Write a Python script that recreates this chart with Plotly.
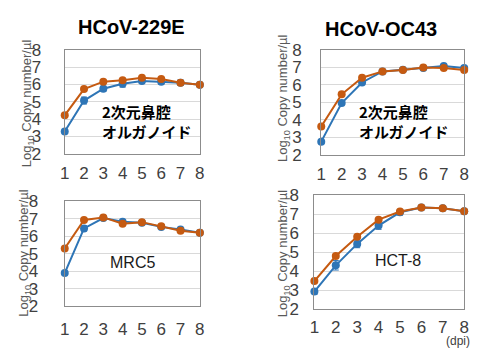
import plotly.graph_objects as go

days = [1, 2, 3, 4, 5, 6, 7, 8]
y_ticks = [2, 3, 4, 5, 6, 7, 8]

# HCoV-229E, 2D nasal organoid
e229_blue = [3.29, 5.07, 5.75, 6.04, 6.20, 6.16, 6.10, 5.98]
e229_blue_err = [0.05, 0.2, 0.15, 0.2, 0.15, 0.15, 0.15, 0.1]
e229_orange = [4.22, 5.73, 6.16, 6.24, 6.38, 6.31, 6.10, 5.98]
e229_orange_err = [0.05, 0.05, 0.08, 0.05, 0.08, 0.05, 0.1, 0.05]

# HCoV-OC43, 2D nasal organoid
oc43_blue = [2.75, 4.95, 6.13, 6.76, 6.85, 6.96, 7.07, 6.96]
oc43_blue_err = [0.05, 0.05, 0.08, 0.05, 0.05, 0.05, 0.05, 0.05]
oc43_orange = [3.62, 5.45, 6.40, 6.76, 6.84, 6.98, 6.96, 6.84]
oc43_orange_err = [0.05, 0.05, 0.05, 0.05, 0.05, 0.05, 0.05, 0.05]

# HCoV-229E, MRC5
mrc5_blue = [3.89, 6.44, 7.03, 6.83, 6.76, 6.53, 6.38, 6.20]
mrc5_blue_err = [0.1, 0.15, 0.05, 0.05, 0.05, 0.05, 0.05, 0.05]
mrc5_orange = [5.30, 6.92, 7.07, 6.71, 6.80, 6.57, 6.31, 6.20]
mrc5_orange_err = [0.05, 0.05, 0.05, 0.05, 0.05, 0.05, 0.05, 0.05]

# HCoV-OC43, HCT-8
hct8_blue = [2.92, 4.31, 5.44, 6.41, 7.11, 7.36, 7.33, 7.16]
hct8_blue_err = [0.15, 0.25, 0.2, 0.2, 0.15, 0.05, 0.05, 0.05]
hct8_orange = [3.48, 4.80, 5.82, 6.72, 7.15, 7.36, 7.33, 7.16]
hct8_orange_err = [0.05, 0.05, 0.05, 0.05, 0.05, 0.05, 0.05, 0.05]

BLUE = "#2E75B6"
ORANGE = "#C55A11"
W, H = 478, 355
FONT = "Liberation Sans, Arial, sans-serif"
JFONT = "Noto Sans CJK JP"

def px(x):
    return x / W

def py(y):
    return 1 - y / H

panels = [
    # (blue, blue_err, orange, orange_err, box x0,x1,y0(top),y1(bottom), y tick gap, x tick gap)
    (e229_blue, e229_blue_err, e229_orange, e229_orange_err, 61, 199, 43, 153, 19, 4),
    (oc43_blue, oc43_blue_err, oc43_orange, oc43_orange_err, 323, 469, 43, 154, 15, 4),
    (mrc5_blue, mrc5_blue_err, mrc5_orange, mrc5_orange_err, 61, 199, 203, 314, 22, 7),
    (hct8_blue, hct8_blue_err, hct8_orange, hct8_orange_err, 316, 469, 197, 317, 11, 3),
]

fig = go.Figure()
layout = {}
for i, (b, be, o, oe, x0, x1, yt, yb, ygap, xgap) in enumerate(panels, start=1):
    xa = "x" if i == 1 else f"x{i}"
    ya = "y" if i == 1 else f"y{i}"
    for vals, errs, col in ((b, be, BLUE), (o, oe, ORANGE)):
        fig.add_trace(go.Scatter(
            x=days, y=vals, mode="lines+markers", xaxis=xa, yaxis=ya,
            line=dict(color=col, width=2),
            marker=dict(color=col, size=8),
            error_y=dict(type="data", array=errs, color=col, thickness=1, width=3),
            cliponaxis=False, showlegend=False, hoverinfo="skip",
        ))
    xkey = "xaxis" if i == 1 else f"xaxis{i}"
    ykey = "yaxis" if i == 1 else f"yaxis{i}"
    layout[xkey] = dict(
        domain=[px(x0), px(x1)], anchor=ya, range=[1, 8], tickvals=days,
        showgrid=False, zeroline=False, showline=True, mirror=True,
        linecolor="#8c8c8c", linewidth=1,
        ticks="outside", ticklen=xgap, tickcolor="rgba(0,0,0,0)",
        tickfont=dict(family=FONT, size=17, color="#404040"),
        fixedrange=True,
    )
    layout[ykey] = dict(
        domain=[py(yb), py(yt)], anchor=xa, range=[2, 8], tickvals=y_ticks,
        showgrid=True, gridcolor="#d9d9d9", gridwidth=1, zeroline=False,
        showline=True, mirror=True, linecolor="#8c8c8c", linewidth=1,
        ticks="outside", ticklen=ygap, tickcolor="rgba(0,0,0,0)",
        tickfont=dict(family=FONT, size=17, color="#404040"),
        fixedrange=True,
    )

annotations = []

def ann(text, x, y, size, color="#000000", family=FONT, angle=0,
        xanchor="center", bold=False, align="center"):
    if bold:
        text = f"<b>{text}</b>"
    annotations.append(dict(
        text=text, x=px(x), y=py(y), xref="paper", yref="paper",
        showarrow=False, textangle=angle, xanchor=xanchor, yanchor="middle",
        align=align, font=dict(family=family, size=size, color=color),
    ))

ann("HCoV-229E", 129, 19, 20, bold=True)
ann("HCoV-OC43", 384, 21, 20, bold=True)

ytitle = "Log<sub>10</sub> Copy number/µl"
ann(ytitle, 23, 100, 13, color="#595959", angle=-90)
ann(ytitle, 285, 94, 13, color="#595959", angle=-90)
ann(ytitle, 20, 258, 13, color="#595959", angle=-90)
ann(ytitle, 284, 258, 13, color="#595959", angle=-90)

organoid = "<b>2次元鼻腔<br>オルガノイド</b>"
ann(organoid, 97, 119, 15, family=JFONT, xanchor="left", align="left")
ann(organoid, 360, 119, 15, family=JFONT, xanchor="left", align="left")

ann("MRC5", 130, 268, 16, color="#1a1a1a")
ann("HCT-8", 401, 266, 16, color="#1a1a1a")
ann("(dpi)", 477, 351, 12, color="#404040", xanchor="right")

fig.update_layout(
    width=W, height=H, margin=dict(l=0, r=0, t=0, b=0),
    paper_bgcolor="white", plot_bgcolor="white",
    annotations=annotations, **layout,
)

fig.write_html("out.html", config={"displayModeBar": False},
               post_script="document.body.style.margin='0';")
